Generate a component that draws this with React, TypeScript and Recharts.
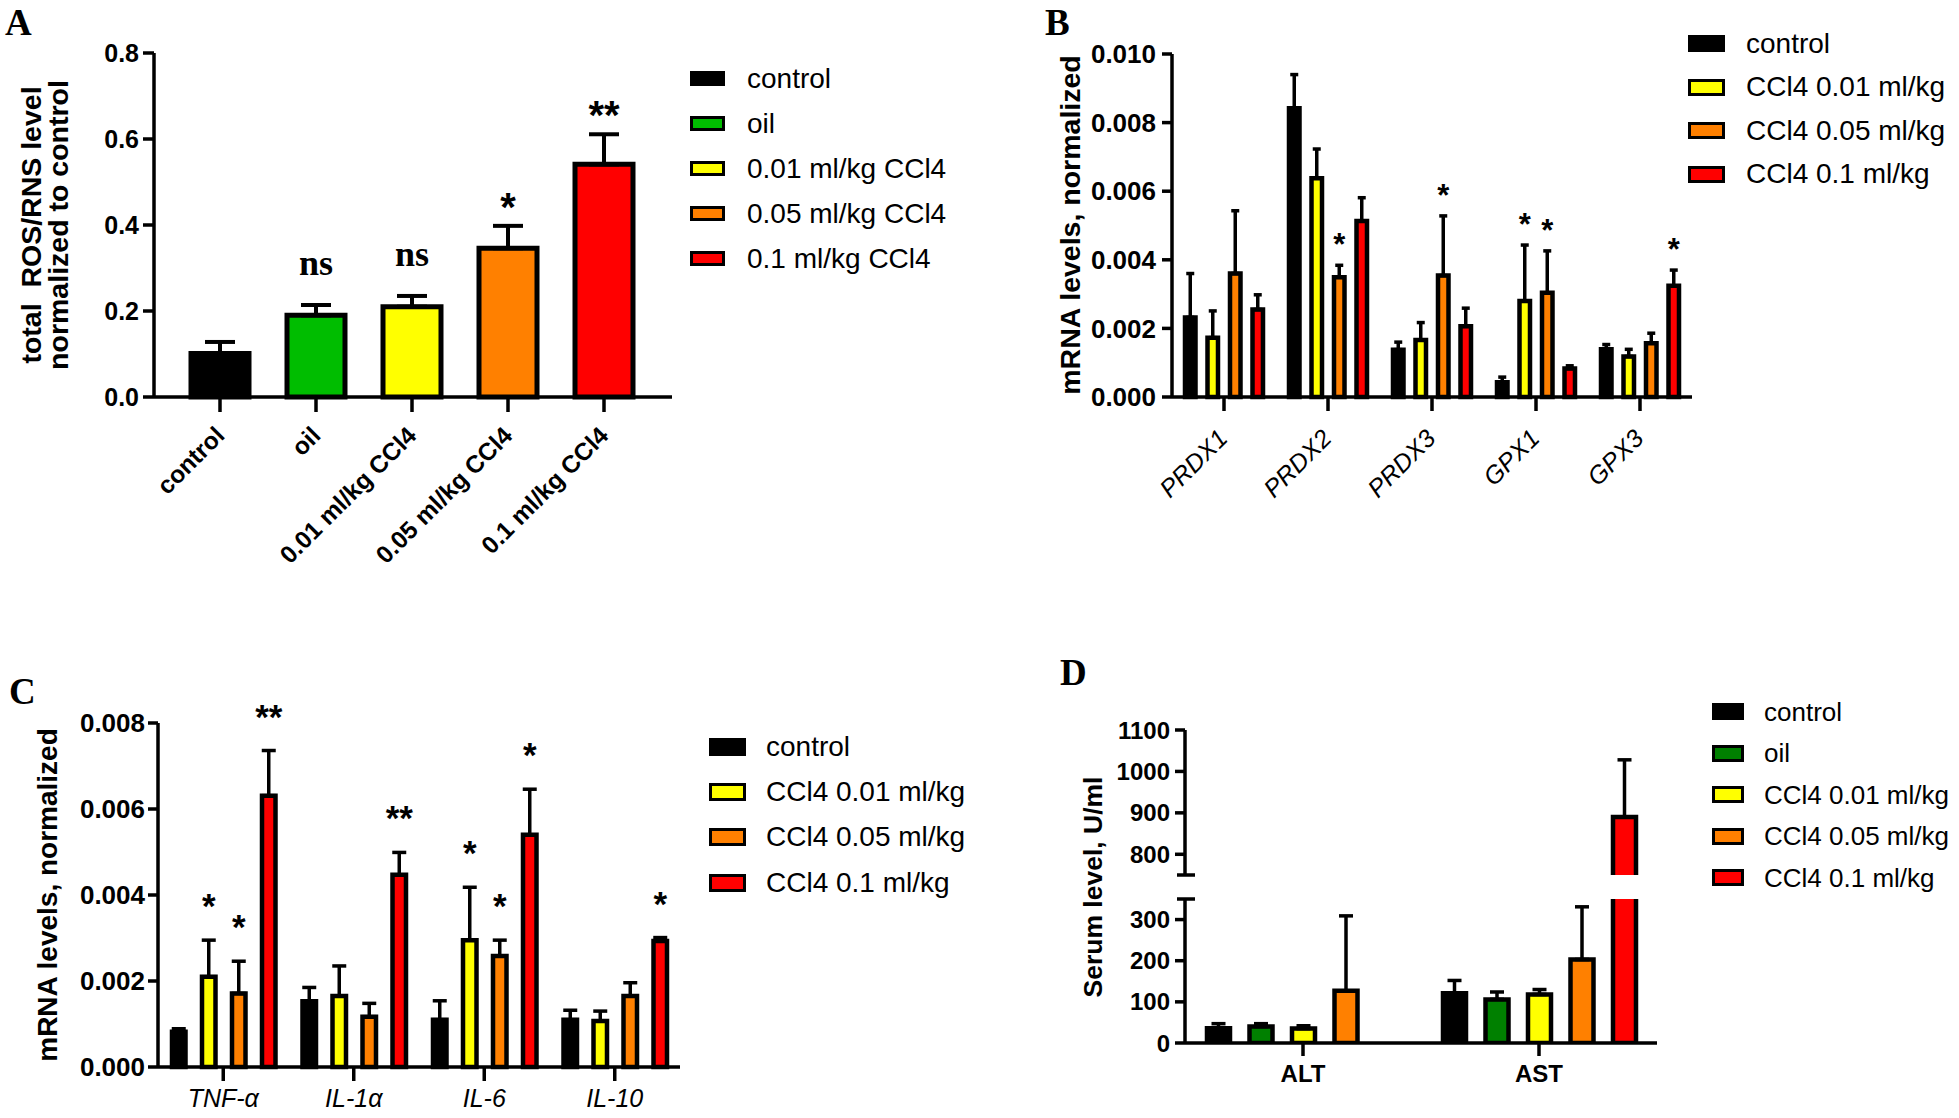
import React from 'react'
import { BarChart, Bar, XAxis, YAxis, ErrorBar, Cell, Legend, LabelList } from 'recharts'

const SANS = '"Liberation Sans", Arial, Helvetica, sans-serif'
const SERIF = '"Liberation Serif", "Times New Roman", Times, serif'

const BLACK = '#000000'
const GREEN = '#00bd00'
const DARK_GREEN = '#008000'
const YELLOW = '#ffff00'
const ORANGE = '#ff8000'
const RED = '#ff0000'

// A - total ROS/RNS level
const rosGroups = ['control', 'oil', '0.01 ml/kg CCl4', '0.05 ml/kg CCl4', '0.1 ml/kg CCl4']
const rosMean = [0.101, 0.19, 0.21, 0.346, 0.541]
const rosSd = [0.027, 0.024, 0.025, 0.052, 0.07]
const rosSig = ['', 'ns', 'ns', '*', '**']
const rosColors = [BLACK, GREEN, YELLOW, ORANGE, RED]
const rosTicks = [0, 0.2, 0.4, 0.6, 0.8]
const rosTitle = ['total  ROS/RNS level', 'normalized to control']

// B - antioxidant genes
const genes = ['PRDX1', 'PRDX2', 'PRDX3', 'GPX1', 'GPX3']
const doseNames = ['control', 'CCl4 0.01 ml/kg', 'CCl4 0.05 ml/kg', 'CCl4 0.1 ml/kg']
const doseColors = [BLACK, YELLOW, ORANGE, RED]
const geneCtrl = [0.00232, 0.00842, 0.00138, 0.00043, 0.00139]
const geneCtrlSd = [0.00128, 0.00098, 0.00022, 0.00015, 0.00014]
const geneLow = [0.00173, 0.00638, 0.00166, 0.0028, 0.00118]
const geneLowSd = [0.00078, 0.00085, 0.00051, 0.00163, 0.00021]
const geneMid = [0.0036, 0.00349, 0.00354, 0.00304, 0.00157]
const geneMidSd = [0.00183, 0.00035, 0.00174, 0.00122, 0.00029]
const geneHigh = [0.00255, 0.00513, 0.00206, 0.00083, 0.00324]
const geneHighSd = [0.00043, 0.00068, 0.00053, 0.00008, 0.00046]
const geneSigLow = ['', '', '', '*', '']
const geneSigMid = ['', '*', '*', '*', '']
const geneSigHigh = ['', '', '', '', '*']
const mrnaTicksB = [0, 0.002, 0.004, 0.006, 0.008, 0.01]

// C - cytokines
const cytokines = ['TNF-α', 'IL-1α', 'IL-6', 'IL-10']
const cytCtrl = [0.00082, 0.00153, 0.0011, 0.0011]
const cytCtrlSd = [0.00007, 0.00032, 0.00044, 0.00022]
const cytLow = [0.0021, 0.00165, 0.00295, 0.00107]
const cytLowSd = [0.00085, 0.0007, 0.00123, 0.00023]
const cytMid = [0.00171, 0.00117, 0.00258, 0.00165]
const cytMidSd = [0.00075, 0.00031, 0.00037, 0.00031]
const cytHigh = [0.00631, 0.00447, 0.0054, 0.00293]
const cytHighSd = [0.00105, 0.00052, 0.00106, 0.00008]
const cytSigLow = ['*', '', '*', '']
const cytSigMid = ['*', '', '*', '']
const cytSigHigh = ['**', '**', '*', '*']
const mrnaTicksC = [0, 0.002, 0.004, 0.006, 0.008]
const mrnaTitle = 'mRNA levels, normalized'

// D - serum enzymes
const enzymes = ['ALT', 'AST']
const serumNames = ['control', 'oil', 'CCl4 0.01 ml/kg', 'CCl4 0.05 ml/kg', 'CCl4 0.1 ml/kg']
const serumColors = [BLACK, DARK_GREEN, YELLOW, ORANGE, RED]
const serumCtrl = [36, 121]
const serumCtrlSd = [11, 31]
const serumOil = [40, 106]
const serumOilSd = [7, 18]
const serumLow = [35, 118]
const serumLowSd = [7, 12]
const serumMid = [127, 203]
const serumMidSd = [182, 128]
const serumHigh = [0, 890]
const serumHighSd = [4, 138]
const serumTicksLow = [0, 100, 200, 300, 350]
const serumTicksHigh = [750, 800, 900, 1000, 1100]
const serumBreaks = [350, 750]

const panelLetters = ['A', 'B', 'C', 'D']

const AXIS = { stroke: '#000', strokeWidth: 3.5 }

type Series = { mean: number[]; sd: number[]; sig?: string[] }

function buildRows(cats: string[], series: Series[], keep: (v: number) => boolean = () => true, errKeep: (v: number) => boolean = () => true) {
  return cats.map((c, i) => {
    const row: Record<string, any> = { cat: c }
    series.forEach((s, k) => {
      const v = s.mean[i]
      row[`v${k}`] = keep(v) ? v : null
      row[`e${k}`] = keep(v) && errKeep(v) ? [0, s.sd[i]] : null
      row[`s${k}`] = { s: s.sig ? s.sig[i] : '', v, e: s.sd[i] }
    })
    return row
  })
}

const sigLabel = (gap: number, size: number, nsGap = 30) => (props: any) => {
  const cell = props.value
  if (!cell || !cell.s) return null
  const vb = props.viewBox ?? props
  const perUnit = vb.height / cell.v
  const errTop = vb.y - cell.e * perUnit
  const ns = cell.s === 'ns'
  return (
    <text
      x={vb.x + vb.width / 2}
      y={errTop - (ns ? nsGap : gap)}
      textAnchor="middle"
      fill="#000"
      fontFamily={ns ? SERIF : SANS}
      fontWeight={700}
      fontSize={ns ? 36 : size}
    >
      {cell.s}
    </text>
  )
}

const legendBox = (labels: string[], colors: string[], o: { w: number; h: number; row: number; gap: number; fs: number }) => () => (
  <div style={{ fontFamily: SANS, fontSize: o.fs, color: '#000' }}>
    {labels.map((t, i) => (
      <div key={t} style={{ display: 'flex', alignItems: 'center', height: o.row, whiteSpace: 'nowrap' }}>
        <span
          style={{
            width: o.w,
            height: o.h,
            flex: 'none',
            boxSizing: 'border-box',
            border: '3.5px solid #000',
            background: colors[i],
            marginRight: o.gap,
          }}
        />
        <span style={{ lineHeight: 1 }}>{t}</span>
      </div>
    ))}
  </div>
)

const slantTick = (anchorY: number, dx: number, fs: number, italic: boolean, bold: boolean) => (p: any) => (
  <text
    transform={`translate(${p.x + dx},${anchorY}) rotate(-45)`}
    textAnchor="end"
    fontFamily={SANS}
    fontSize={fs}
    fontStyle={italic ? 'italic' : 'normal'}
    fontWeight={bold ? 700 : 400}
    fill="#000"
  >
    {p.payload.value}
  </text>
)

const flatTick = (baseY: number, fs: number, italic: boolean, bold: boolean) => (p: any) => (
  <text
    x={p.x}
    y={baseY}
    textAnchor="middle"
    fontFamily={SANS}
    fontSize={fs}
    fontStyle={italic ? 'italic' : 'normal'}
    fontWeight={bold ? 700 : 400}
    fill="#000"
  >
    {p.payload.value}
  </text>
)

const yTitle = (lines: string[], xs: number[], cy: number, fs: number) => () => (
  <g>
    {lines.map((t, i) => (
      <text
        key={i}
        transform={`translate(${xs[i]},${cy}) rotate(-90)`}
        textAnchor="middle"
        fontFamily={SANS}
        fontWeight={700}
        fontSize={fs}
        fill="#000"
        style={{ whiteSpace: 'pre' }}
      >
        {t}
      </text>
    ))}
  </g>
)

const serumTick = (axisX: number) => (p: any) => {
  const v = p.payload.value
  if (serumBreaks.includes(v)) {
    return <line x1={axisX - 8} x2={axisX + 10} y1={p.y} y2={p.y} stroke="#000" strokeWidth={3.5} />
  }
  return (
    <g>
      <line x1={axisX - 10} x2={axisX} y1={p.y} y2={p.y} stroke="#000" strokeWidth={3.5} />
      <text x={axisX - 15} y={p.y} dy="0.36em" textAnchor="end" fontFamily={SANS} fontWeight={700} fontSize={24} fill="#000">
        {v}
      </text>
    </g>
  )
}

const OpenBase = (p: any) => {
  const { x, y, width, height, fill } = p
  if (!height || height <= 0) return null
  const b = y + height
  return (
    <g>
      <rect x={x} y={y} width={width} height={height} fill={fill} />
      <path d={`M${x},${b}V${y}H${x + width}V${b}`} fill="none" stroke="#000" strokeWidth={4.5} />
    </g>
  )
}

const tickText = (fs: number) => ({ fill: '#000', fontSize: fs, fontWeight: 700, fontFamily: SANS })

function RosPanel() {
  const rows = rosGroups.map((g, i) => ({
    cat: g,
    ros: rosMean[i],
    sd: [0, rosSd[i]],
    sig: { s: rosSig[i], v: rosMean[i], e: rosSd[i] },
  }))
  return (
    <div style={{ position: 'absolute', left: 0, top: 0 }}>
      <BarChart width={1000} height={620} data={rows} margin={{ top: 53, right: 328, left: 34, bottom: 23 }} barSize={58}>
        <XAxis
          dataKey="cat"
          interval={0}
          padding={{ left: 18, right: 20 }}
          height={200}
          axisLine={AXIS}
          tickLine={AXIS}
          tickSize={15}
          tick={slantTick(437, 6, 24.5, false, true)}
        />
        <YAxis
          width={120}
          domain={[0, 0.8]}
          ticks={rosTicks}
          interval={0}
          tickFormatter={(v: number) => v.toFixed(1)}
          axisLine={AXIS}
          tickLine={AXIS}
          tickSize={11}
          tickMargin={4}
          tick={tickText(25)}
          label={yTitle(rosTitle, [41, 68], 225, 28.5)}
        />
        <Bar dataKey="ros" stroke="#000" strokeWidth={5} isAnimationActive={false}>
          {rows.map((r, i) => (
            <Cell key={r.cat} fill={rosColors[i]} />
          ))}
          <ErrorBar dataKey="sd" width={15} stroke="#000" strokeWidth={4} direction="y" isAnimationActive={false} />
          <LabelList dataKey="sig" content={sigLabel(5, 40, 30)} />
        </Bar>
        <Legend
          layout="vertical"
          align="center"
          verticalAlign="middle"
          wrapperStyle={{ left: 690, top: 56, width: 300 }}
          content={legendBox(rosGroups, rosColors, { w: 35, h: 15, row: 45, gap: 22, fs: 28 })}
        />
      </BarChart>
    </div>
  )
}

function GenePanel() {
  const rows = buildRows(genes, [
    { mean: geneCtrl, sd: geneCtrlSd },
    { mean: geneLow, sd: geneLowSd, sig: geneSigLow },
    { mean: geneMid, sd: geneMidSd, sig: geneSigMid },
    { mean: geneHigh, sd: geneHighSd, sig: geneSigHigh },
  ])
  return (
    <div style={{ position: 'absolute', left: 1000, top: 0 }}>
      <BarChart width={959} height={600} data={rows} margin={{ top: 54, right: 267, left: 62, bottom: 23 }} barSize={10.5} barGap={12}>
        <XAxis
          dataKey="cat"
          interval={0}
          height={180}
          axisLine={AXIS}
          tickLine={AXIS}
          tickSize={14}
          tick={slantTick(440, 5, 25, true, false)}
        />
        <YAxis
          width={110}
          domain={[0, 0.01]}
          ticks={mrnaTicksB}
          interval={0}
          tickFormatter={(v: number) => v.toFixed(3)}
          axisLine={AXIS}
          tickLine={AXIS}
          tickSize={10}
          tickMargin={6}
          tick={tickText(26)}
          label={yTitle([mrnaTitle], [80], 225, 28.5)}
        />
        {doseColors.map((c, k) => (
          <Bar key={k} dataKey={`v${k}`} name={doseNames[k]} fill={c} stroke="#000" strokeWidth={4.5} isAnimationActive={false}>
            <ErrorBar dataKey={`e${k}`} width={4} stroke="#000" strokeWidth={3.5} direction="y" isAnimationActive={false} />
            <LabelList dataKey={`s${k}`} content={sigLabel(10, 31)} />
          </Bar>
        ))}
        <Legend
          layout="vertical"
          align="center"
          verticalAlign="middle"
          wrapperStyle={{ left: 688, top: 22, width: 270 }}
          content={legendBox(doseNames, doseColors, { w: 37, h: 17, row: 43.5, gap: 21, fs: 28 })}
        />
      </BarChart>
    </div>
  )
}

function CytokinePanel() {
  const rows = buildRows(cytokines, [
    { mean: cytCtrl, sd: cytCtrlSd },
    { mean: cytLow, sd: cytLowSd, sig: cytSigLow },
    { mean: cytMid, sd: cytMidSd, sig: cytSigMid },
    { mean: cytHigh, sd: cytHighSd, sig: cytSigHigh },
  ])
  return (
    <div style={{ position: 'absolute', left: 0, top: 600 }}>
      <BarChart width={1000} height={518} data={rows} margin={{ top: 123, right: 320, left: 48, bottom: 11 }} barSize={13.5} barGap={16.5}>
        <XAxis
          dataKey="cat"
          interval={0}
          height={40}
          axisLine={AXIS}
          tickLine={AXIS}
          tickSize={14}
          tick={flatTick(507, 25, true, false)}
        />
        <YAxis
          width={110}
          domain={[0, 0.008]}
          ticks={mrnaTicksC}
          interval={0}
          tickFormatter={(v: number) => v.toFixed(3)}
          axisLine={AXIS}
          tickLine={AXIS}
          tickSize={10}
          tickMargin={3}
          tick={tickText(26)}
          label={yTitle([mrnaTitle], [57], 295, 28)}
        />
        {doseColors.map((c, k) => (
          <Bar key={k} dataKey={`v${k}`} name={doseNames[k]} fill={c} stroke="#000" strokeWidth={4.5} isAnimationActive={false}>
            <ErrorBar dataKey={`e${k}`} width={7} stroke="#000" strokeWidth={3.5} direction="y" isAnimationActive={false} />
            <LabelList dataKey={`s${k}`} content={sigLabel(22, 35)} />
          </Bar>
        ))}
        <Legend
          layout="vertical"
          align="center"
          verticalAlign="middle"
          wrapperStyle={{ left: 709, top: 124, width: 290 }}
          content={legendBox(doseNames, doseColors, { w: 37, h: 18, row: 45.3, gap: 20, fs: 28 })}
        />
      </BarChart>
    </div>
  )
}

function SerumPanel() {
  const series: Series[] = [
    { mean: serumCtrl, sd: serumCtrlSd },
    { mean: serumOil, sd: serumOilSd },
    { mean: serumLow, sd: serumLowSd },
    { mean: serumMid, sd: serumMidSd },
    { mean: serumHigh, sd: serumHighSd },
  ]
  const upperRows = buildRows(enzymes, series, (v) => v >= 750)
  const lowerRows = buildRows(enzymes, series, () => true, (v) => v <= 350)
  const margin = { right: 302, left: 75, bottom: 25 }
  return (
    <>
      <div style={{ position: 'absolute', left: 1000, top: 680 }}>
        <BarChart width={959} height={220} data={upperRows} margin={{ ...margin, top: 50 }} barSize={23} barGap={19.5}>
          <XAxis dataKey="cat" hide />
          <YAxis
            width={110}
            domain={[750, 1100]}
            ticks={serumTicksHigh}
            interval={0}
            axisLine={AXIS}
            tickLine={false}
            tick={serumTick(185)}
          />
          {serumColors.map((c, k) => (
            <Bar key={k} dataKey={`v${k}`} name={serumNames[k]} fill={c} shape={OpenBase} isAnimationActive={false}>
              <ErrorBar dataKey={`e${k}`} width={7} stroke="#000" strokeWidth={3.5} direction="y" isAnimationActive={false} />
            </Bar>
          ))}
          <Legend
            layout="vertical"
            align="center"
            verticalAlign="middle"
            wrapperStyle={{ left: 712, top: 11, width: 245 }}
            content={legendBox(serumNames, serumColors, { w: 32, h: 17, row: 41.5, gap: 20, fs: 26 })}
          />
        </BarChart>
      </div>
      <div style={{ position: 'absolute', left: 1000, top: 680 }}>
        <BarChart width={959} height={438} data={lowerRows} margin={{ ...margin, top: 219 }} barSize={23} barGap={19.5}>
          <XAxis
            dataKey="cat"
            interval={0}
            height={50}
            axisLine={AXIS}
            tickLine={AXIS}
            tickSize={13}
            tick={flatTick(402, 24, false, true)}
          />
          <YAxis
            width={110}
            domain={[0, 350]}
            allowDataOverflow
            ticks={serumTicksLow}
            interval={0}
            axisLine={AXIS}
            tickLine={false}
            tick={serumTick(185)}
            label={yTitle(['Serum level, U/ml'], [102], 207, 26.5)}
          />
          {serumColors.map((c, k) => (
            <Bar key={k} dataKey={`v${k}`} name={serumNames[k]} fill={c} stroke="#000" strokeWidth={4.5} isAnimationActive={false}>
              <ErrorBar dataKey={`e${k}`} width={7} stroke="#000" strokeWidth={3.5} direction="y" isAnimationActive={false} />
            </Bar>
          ))}
        </BarChart>
      </div>
    </>
  )
}

const letterPos = [
  [5, 1],
  [1045, 1],
  [9, 670],
  [1060, 651],
]

export default function App() {
  return (
    <div style={{ position: 'relative', width: 1959, height: 1118, background: '#fff', fontFamily: SANS, overflow: 'hidden' }}>
      <style>{'body{margin:0}'}</style>
      <RosPanel />
      <GenePanel />
      <CytokinePanel />
      <SerumPanel />
      {panelLetters.map((t, i) => (
        <div
          key={t}
          style={{
            position: 'absolute',
            left: letterPos[i][0],
            top: letterPos[i][1],
            fontFamily: SERIF,
            fontWeight: 700,
            fontSize: 37,
            lineHeight: 'normal',
            color: '#000',
          }}
        >
          {t}
        </div>
      ))}
    </div>
  )
}
